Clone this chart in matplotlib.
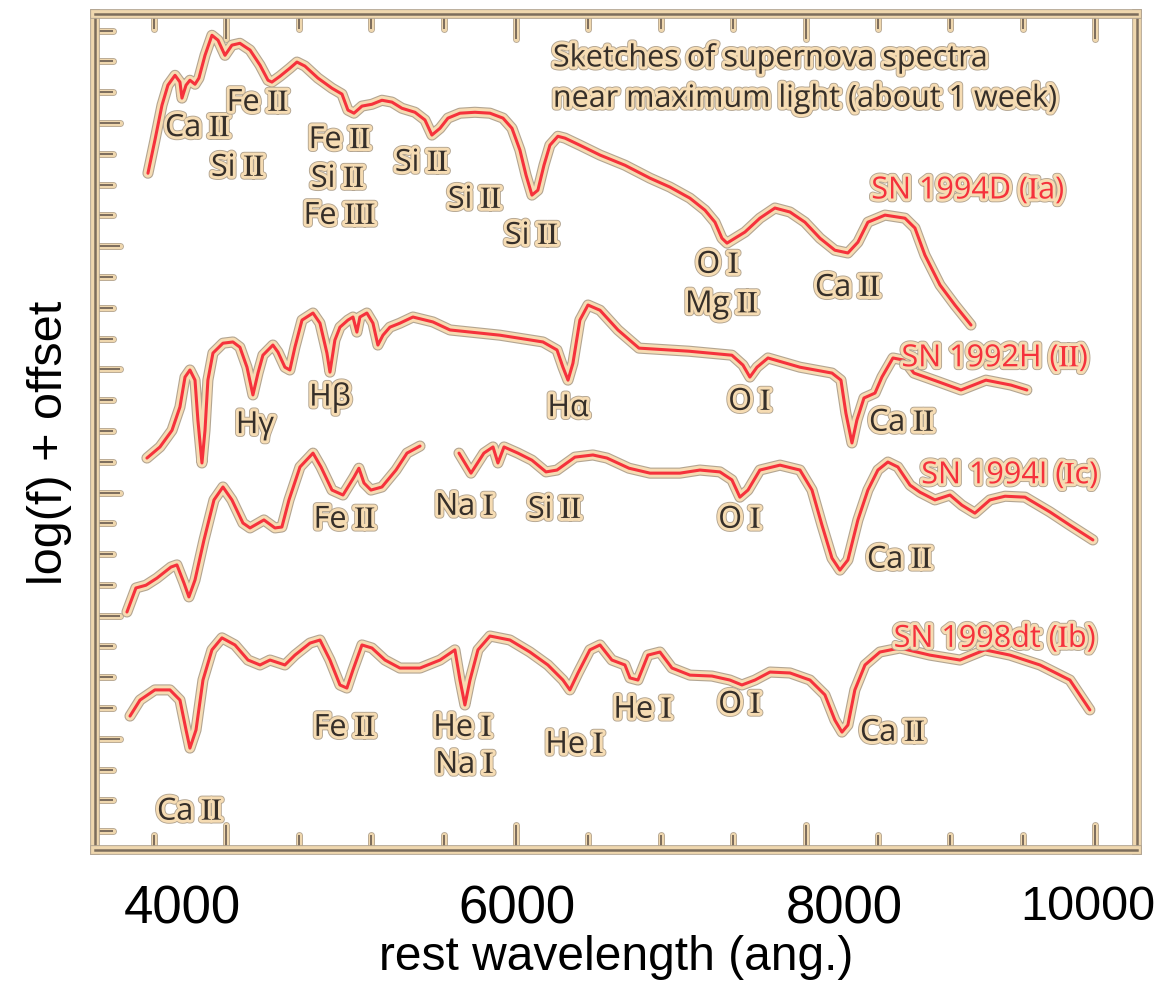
import numpy as np
import matplotlib.pyplot as plt
import matplotlib.patheffects as pe
from matplotlib.ticker import MultipleLocator
from matplotlib.transforms import ScaledTranslation

plt.rcParams['font.family'] = ['Liberation Sans', 'DejaVu Sans']
plt.rcParams['mathtext.fontset'] = 'stix'

# spectra sketches: rest wavelength (ang.), log(f) + offset
sn1994D = np.array([
    [3458, 22.37], [3506, 23.44], [3555, 24.58], [3596, 25.23], [3645, 25.55],
    [3679, 25.33], [3693, 24.81], [3721, 25.23], [3748, 25.39], [3783, 25.26],
    [3810, 25.46], [3852, 26.20], [3900, 26.85], [3942, 26.69], [3990, 26.20],
    [4038, 26.53], [4093, 26.59], [4163, 26.37], [4232, 25.88], [4287, 25.39],
    [4314, 25.33], [4370, 25.52], [4438, 25.78], [4487, 25.98], [4542, 25.85],
    [4632, 25.46], [4729, 25.13], [4798, 24.94], [4839, 24.42], [4881, 24.32],
    [4936, 24.55], [5005, 24.61], [5074, 24.74], [5143, 24.68], [5212, 24.48],
    [5302, 24.35], [5371, 24.10], [5419, 23.61], [5475, 23.83], [5530, 24.16],
    [5613, 24.32], [5716, 24.35], [5820, 24.32], [5910, 24.16], [5972, 23.83],
    [6027, 23.12], [6069, 22.31], [6110, 21.66], [6151, 21.82], [6193, 22.63],
    [6234, 23.28], [6289, 23.57], [6338, 23.51], [6441, 23.28], [6580, 22.96],
    [6752, 22.63], [6925, 22.21], [7063, 21.92], [7201, 21.56], [7305, 21.17],
    [7374, 20.78], [7422, 20.26], [7457, 20.10], [7512, 20.26], [7581, 20.46],
    [7684, 20.91], [7788, 21.24], [7892, 21.11], [7995, 20.78], [8099, 20.26],
    [8202, 19.87], [8292, 19.78], [8361, 20.13], [8430, 20.78], [8548, 21.01],
    [8686, 20.91], [8755, 20.59], [8824, 19.71], [8928, 18.74], [9031, 18.09],
    [9142, 17.44]])

sn1992H = np.array([
    [3451, 13.12], [3541, 13.48], [3624, 14.02], [3679, 14.78], [3714, 15.75],
    [3748, 15.98], [3783, 15.65], [3803, 14.35], [3831, 12.96], [3852, 14.02],
    [3872, 15.65], [3907, 16.53], [3976, 16.85], [4045, 16.89], [4093, 16.72],
    [4142, 16.07], [4183, 15.17], [4218, 15.88], [4252, 16.46], [4321, 16.79],
    [4356, 16.56], [4404, 16.07], [4438, 15.98], [4473, 16.72], [4522, 17.60],
    [4598, 17.83], [4646, 17.50], [4694, 16.53], [4715, 15.91], [4749, 16.95],
    [4784, 17.37], [4839, 17.60], [4874, 17.70], [4901, 17.21], [4922, 17.70],
    [4970, 17.83], [5012, 17.50], [5046, 16.79], [5081, 17.11], [5129, 17.37],
    [5198, 17.50], [5288, 17.70], [5426, 17.54], [5544, 17.28], [5889, 17.11],
    [6186, 16.89], [6283, 16.63], [6324, 16.07], [6359, 15.65], [6393, 16.20],
    [6441, 17.60], [6497, 18.09], [6580, 17.92], [6704, 17.28], [6849, 16.69],
    [7194, 16.59], [7491, 16.46], [7567, 16.14], [7615, 15.75], [7664, 16.07],
    [7740, 16.37], [7961, 16.07], [8182, 15.88], [8244, 15.65], [8278, 14.58],
    [8320, 13.61], [8354, 14.35], [8403, 15.07], [8479, 15.23], [8527, 15.75],
    [8603, 16.37], [8679, 16.30], [8748, 15.88], [8921, 15.59], [9073, 15.33],
    [9245, 15.65], [9418, 15.49], [9528, 15.33]])

# the 1994I sketch has a gap around 5400-5600
sn1994I = np.array([
    [3313, 8.12], [3375, 8.90], [3444, 8.99], [3520, 9.22], [3617, 9.58],
    [3658, 9.65], [3707, 9.06], [3741, 8.61], [3783, 9.16], [3845, 10.46],
    [3914, 11.76], [3976, 12.18], [4038, 11.76], [4114, 11.01], [4163, 10.85],
    [4259, 11.11], [4335, 10.85], [4383, 10.88], [4432, 11.76], [4508, 12.83],
    [4598, 13.28], [4653, 12.83], [4729, 12.08], [4805, 11.92], [4881, 12.50],
    [4915, 12.79], [4950, 12.31], [4998, 12.08], [5074, 12.18], [5171, 12.73],
    [5247, 13.28], [5337, 13.51], [np.nan, np.nan],
    [5606, 13.28], [5689, 12.63], [5778, 13.28], [5841, 13.48], [5875, 12.96],
    [5917, 13.48], [6013, 13.28], [6110, 13.05], [6207, 12.67], [6283, 12.73],
    [6407, 13.15], [6531, 13.22], [6628, 13.12], [6780, 12.79], [6925, 12.63],
    [7132, 12.63], [7270, 12.73], [7408, 12.67], [7491, 12.41], [7546, 11.85],
    [7602, 12.08], [7684, 12.73], [7823, 12.89], [7961, 12.73], [8044, 12.08],
    [8113, 10.94], [8182, 9.87], [8237, 9.48], [8292, 9.81], [8361, 11.11],
    [8430, 12.08], [8499, 12.73], [8568, 12.99], [8637, 12.83], [8721, 12.24],
    [8790, 12.01], [8893, 11.76], [8997, 11.92], [9079, 11.59], [9169, 11.33],
    [9273, 11.76], [9377, 11.88], [9515, 11.85], [9687, 11.37], [9825, 10.94],
    [9984, 10.46]])

sn1998dt = np.array([
    [3334, 4.74], [3403, 5.26], [3506, 5.59], [3610, 5.59], [3679, 5.26],
    [3721, 4.29], [3748, 3.70], [3790, 4.29], [3838, 5.91], [3900, 6.89],
    [3969, 7.28], [4059, 7.05], [4149, 6.56], [4232, 6.40], [4301, 6.56],
    [4404, 6.40], [4473, 6.72], [4577, 7.11], [4646, 7.21], [4715, 6.56],
    [4784, 5.75], [4832, 5.65], [4874, 6.24], [4936, 7.05], [5005, 6.95],
    [5095, 6.56], [5198, 6.30], [5337, 6.30], [5475, 6.56], [5578, 6.89],
    [5613, 5.91], [5647, 5.10], [5682, 5.91], [5737, 6.89], [5820, 7.34],
    [5958, 7.21], [6096, 6.82], [6220, 6.40], [6324, 5.91], [6372, 5.59],
    [6428, 6.14], [6510, 6.89], [6580, 7.05], [6662, 6.56], [6752, 6.40],
    [6787, 5.98], [6842, 5.91], [6911, 6.72], [6994, 6.82], [7077, 6.30],
    [7201, 6.07], [7353, 6.04], [7477, 5.91], [7560, 5.75], [7650, 5.91],
    [7754, 6.17], [7892, 6.14], [8030, 5.91], [8133, 5.43], [8202, 4.61],
    [8251, 4.22], [8292, 4.45], [8340, 5.59], [8410, 6.40], [8513, 6.82],
    [8651, 6.95], [8858, 6.72], [9066, 6.56], [9238, 6.89], [9411, 6.72],
    [9618, 6.40], [9825, 5.91], [9963, 4.94]])

# line identifications: label, wavelength, level
ids_1994D = [(r'Ca $\mathrm{II}$', 3803, 23.83), (r'Fe $\mathrm{II}$', 4218, 24.65),
             (r'Si $\mathrm{II}$', 4080, 22.54), (r'Fe $\mathrm{II}$', 4784, 23.44),
             (r'Si $\mathrm{II}$', 4770, 22.18), (r'Fe $\mathrm{III}$', 4784, 20.98),
             (r'Si $\mathrm{II}$', 5350, 22.70), (r'Si $\mathrm{II}$', 5716, 21.50),
             (r'Si $\mathrm{II}$', 6110, 20.33), (r'O $\mathrm{I}$', 7395, 19.39),
             (r'Mg $\mathrm{II}$', 7422, 18.09), (r'Ca $\mathrm{II}$', 8292, 18.64)]
ids_1992H = [('Hγ', 4197, 14.19), ('Hβ', 4715, 15.10),
             ('Hα', 6359, 14.74), (r'O $\mathrm{I}$', 7615, 14.94),
             (r'Ca $\mathrm{II}$', 8665, 14.26)]
ids_1994I = [(r'Fe $\mathrm{II}$', 4818, 11.11), (r'Na $\mathrm{I}$', 5647, 11.53),
             (r'Si $\mathrm{II}$', 6269, 11.43), (r'O $\mathrm{I}$', 7546, 11.11),
             (r'Ca $\mathrm{II}$', 8651, 9.81)]
ids_1998dt = [(r'Fe $\mathrm{II}$', 4818, 4.35), (r'He $\mathrm{I}$', 5633, 4.35),
              (r'Na $\mathrm{I}$', 5647, 3.15), (r'He $\mathrm{I}$', 6407, 3.80),
              (r'He $\mathrm{I}$', 6877, 4.94), (r'O $\mathrm{I}$', 7546, 5.10),
              (r'Ca $\mathrm{II}$', 8603, 4.19), (r'Ca $\mathrm{II}$', 3748, 1.63)]

sn_names = [r'SN 1994D ($\mathrm{I}$a)', r'SN 1992H ($\mathrm{II}$)',
            r'SN 1994I ($\mathrm{I}$c)', r'SN 1998dt ($\mathrm{I}$b)']
sn_name_pos = [(9121, 21.82), (9307, 16.37), (9411, 12.57), (9307, 7.28)]

ink = '#362f29'
red = '#f5323c'
tan = '#f6dcb3'
edge = '#b3a591'
frame = '#7c6d5c'

curve_fx = [pe.Stroke(linewidth=8, foreground=edge),
            pe.Stroke(linewidth=6.4, foreground=tan), pe.Normal()]
text_fx = [pe.Stroke(linewidth=5.5, foreground=edge),
           pe.Stroke(linewidth=4.2, foreground=tan), pe.Normal()]
frame_fx = [pe.Stroke(linewidth=7, foreground=edge, capstyle='projecting'),
            pe.Stroke(linewidth=5.6, foreground='#efd7ae', capstyle='projecting'),
            pe.Normal()]
tick_fx = [pe.Stroke(linewidth=5, foreground=edge, capstyle='round'),
           pe.Stroke(linewidth=3.8, foreground='#efd7ae', capstyle='round'),
           pe.Normal()]

fig = plt.figure(figsize=(11.65, 9.82), dpi=100)
ax = fig.add_axes([0.0815, 0.1344, 0.8944, 0.8513])

for spec in (sn1994D, sn1992H, sn1994I, sn1998dt):
    ax.plot(spec[:, 0], spec[:, 1], color=red, lw=2.2,
            solid_capstyle='round', solid_joinstyle='round',
            path_effects=curve_fx)

for ids in (ids_1994D, ids_1992H, ids_1994I, ids_1998dt):
    for label, w, f in ids:
        ax.text(w, f, label, ha='center', va='center', fontsize=22,
                family='Open Sans', color=ink, path_effects=text_fx)

for name, (w, f) in zip(sn_names, sn_name_pos):
    ax.text(w, f, name, ha='center', va='center', fontsize=22,
            family='Open Sans', color=red, path_effects=text_fx)

ax.text(0.4395, 0.966, 'Sketches of supernova spectra\nnear maximum light (about 1 week)',
        transform=ax.transAxes, ha='left', va='top', fontsize=22,
        family='Open Sans', color=ink, linespacing=1.45, path_effects=text_fx)

ax.set_xlim(3092, 10288)
ax.set_ylim(0.39, 27.54)
ax.set_xticks([4000, 6000, 8000, 10000])
ax.xaxis.set_minor_locator(MultipleLocator(500))
ax.yaxis.set_major_locator(MultipleLocator(4))
ax.yaxis.set_minor_locator(MultipleLocator(1))

ax.tick_params(axis='x', which='both', direction='in', top=True, bottom=True,
               color=frame, width=1.4)
ax.tick_params(axis='x', which='major', length=18, labelsize=38, pad=25)
ax.tick_params(axis='x', which='minor', length=11)
ax.tick_params(axis='y', which='both', direction='in', left=True, right=False,
               labelleft=False, color=frame, width=1.4)
ax.tick_params(axis='y', which='major', length=18)
ax.tick_params(axis='y', which='minor', length=13)

for s in ax.spines.values():
    s.set_color(frame)
    s.set_linewidth(1.8)
    s.set_path_effects(frame_fx)

ax.set_xlabel('rest wavelength (ang.)', fontsize=34.5, labelpad=0)
ax.set_ylabel('log(f) + offset', fontsize=35)
ax.yaxis.set_label_coords(-0.022, 0.487)

fig.canvas.draw()

# wavelength labels sit a little off their ticks in the sketch
shift_px = {4000: -44, 6000: 1, 8000: 39, 10000: -7}
for tick in ax.xaxis.get_major_ticks():
    loc = int(round(tick.get_loc()))
    dx = shift_px.get(loc, 0)
    tick.label1.set_transform(tick.label1.get_transform()
                              + ScaledTranslation(dx / 100, 0, fig.dpi_scale_trans))
    if loc == 10000:
        tick.label1.set_fontsize(35)

for tick in (ax.xaxis.get_major_ticks() + ax.xaxis.get_minor_ticks()
             + ax.yaxis.get_major_ticks() + ax.yaxis.get_minor_ticks()):
    tick.tick1line.set_path_effects(tick_fx)
    tick.tick2line.set_path_effects(tick_fx)

fig.savefig('out.png', dpi=100)
